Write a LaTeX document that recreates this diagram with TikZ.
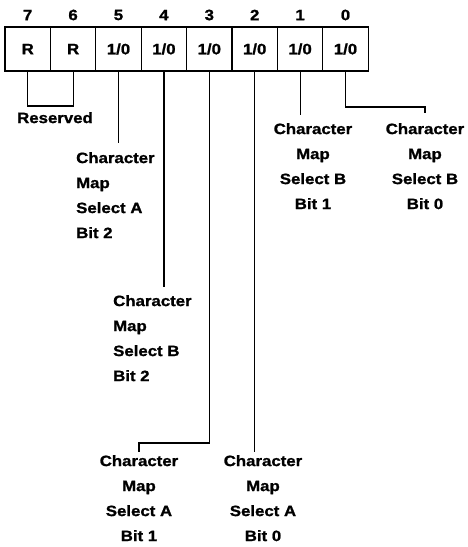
\documentclass[tikz,border=0pt]{standalone}
\usepackage{fontspec}
\setmainfont{Liberation Sans}[FakeStretch=1.12, BoldFeatures={FakeBold=1.2}]
\usepackage{tikz}
\usetikzlibrary{positioning}

\tikzset{
  bitcell/.style={draw, line width=1.2pt, minimum width=45.4pt, minimum height=44pt, inner sep=0pt},
  bitlbl/.style={font=\fontsize{15}{25}\selectfont\bfseries, inner xsep=0pt, inner ysep=8pt},
  wire/.style={line width=1.2pt}
}

\begin{document}
\begin{tikzpicture}[x=1pt, y=-1pt, font=\fontsize{15}{25}\selectfont\bfseries]
                \useasboundingbox (0,0) rectangle (467,547);

                % 寄存器位
                \foreach \b in {7,...,0} {
                  \pgfmathsetmacro{\cx}{5+45.4*(7-\b)+22.7}
                  \ifnum\b>5
                    \node[bitcell] (c\b) at (\cx,49) {R};
                  \else
                    \node[bitcell] (c\b) at (\cx,49) {1/0};
                  \fi
                  \node (n\b) at (\cx,15) {\b};
                }

                % 标签
                \node[bitlbl, inner ysep=6pt, anchor=north] (res) at (55,106) {Reserved};
                \node[bitlbl, inner ysep=9pt, anchor=north west, align=left] (l5) at (76,143)
                  {Character\\Map\\Select A\\Bit 2};
                \node[bitlbl, anchor=north west, align=left] (l4) at (113,287)
                  {Character\\Map\\Select B\\Bit 2};
                \node[bitlbl, inner ysep=3pt, anchor=north, align=center] (l3) at (139,452)
                  {Character\\Map\\Select A\\Bit 1};
                \node[bitlbl, inner ysep=3pt, anchor=north, align=center] (l2) at (263,452)
                  {Character\\Map\\Select A\\Bit 0};
                \node[bitlbl, anchor=north, align=center] (l1) at (313,115)
                  {Character\\Map\\Select B\\Bit 1};
                \node[bitlbl, inner ysep=10pt, anchor=north, align=center] (l0) at (425,113)
                  {Character\\Map\\Select B\\Bit 0};

                % 连线
                \coordinate (k3) at (139,443);
                \coordinate (k0) at (425,107);
                \draw[wire] (c7.south) |- (res.north) -| (c6.south);
                \draw[wire] (c5.south) -- (c5.south |- l5.north);
                \draw[wire] (c4.south) -- (c4.south |- l4.north);
                \draw[wire] (c3.south) |- (k3) -- (l3.north);
                \draw[wire] (c2.south) -- (c2.south |- l2.north);
                \draw[wire] (c1.south) -- (c1.south |- l1.north);
                \draw[wire] (c0.south) |- (k0) -- (l0.north);
            \end{tikzpicture}
\end{document}
